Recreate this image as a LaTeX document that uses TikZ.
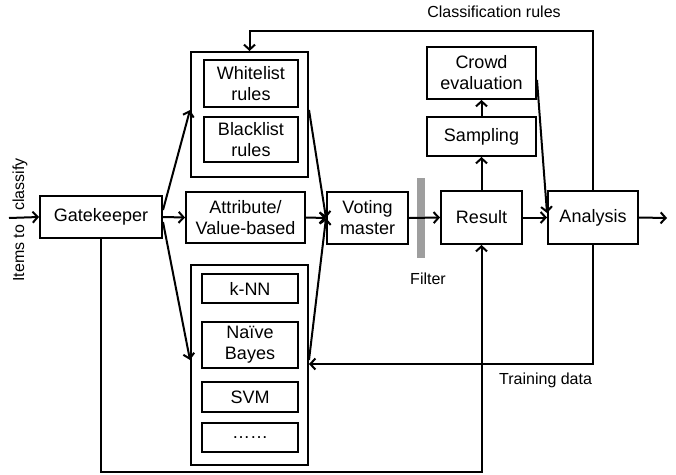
\documentclass[tikz,border=0pt]{standalone}
\usepackage{fontspec}
\setmainfont{Liberation Sans}
\usetikzlibrary{arrows.meta,calc}
\begin{document}
\begin{tikzpicture}[x=1pt,y=-1pt,
  line width=2pt,
  arr/.style={-{Straight Barb[length=5pt,width=11pt,line width=2pt]}},
  box/.style={draw,rectangle,inner sep=0pt,align=center,font=\fontsize{18}{21}\selectfont},
  lbl/.style={inner sep=0pt,font=\fontsize{16}{19}\selectfont}]
\useasboundingbox (0,0) rectangle (676,474);
% nodes
\node[box,minimum width=122pt,minimum height=42pt] (gk) at (101,217) {Gatekeeper};
\node[box,minimum width=117pt,minimum height=125pt] (up) at (249.5,114.5) {};
\node[box,minimum width=94pt,minimum height=47pt] (wl) at (251,83.5) {Whitelist\\rules};
\node[box,minimum width=94pt,minimum height=45pt] (bl) at (251,139.5) {Blacklist\\rules};
\node[box,minimum width=119pt,minimum height=51pt] (attr) at (245.5,217.5) {Attribute/\\Value-based};
\node[box,minimum width=117pt,minimum height=200pt] (low) at (249.5,365) {};
\node[box,minimum width=96pt,minimum height=29pt] (knn) at (250,288.5) {k-NN};
\node[box,minimum width=96pt,minimum height=46pt] (nb) at (250,345) {Naïve\\Bayes};
\node[box,minimum width=96pt,minimum height=30pt] (svm) at (250,397) {SVM};
\node[box,minimum width=96pt,minimum height=29pt] (dots) at (250,437.5) {……};
\node[box,minimum width=81pt,minimum height=52pt] (vote) at (367.5,218) {Voting\\master};
\node[fill=black!38,inner sep=0pt,minimum width=8pt,minimum height=80pt] (filter) at (421,218) {};
\node[box,minimum width=81pt,minimum height=53pt] (res) at (481.5,217.5) {Result};
\node[box,minimum width=90pt,minimum height=53pt] (an) at (593,217.5) {Analysis};
\node[box,minimum width=109pt,minimum height=39pt] (samp) at (481.5,136.5) {Sampling};
\node[box,minimum width=109pt,minimum height=52pt] (crowd) at (481.5,73) {Crowd\\evaluation};
% labels
\node[lbl,rotate=90] (items) at (20,220) {Items to\hspace{14pt}classify};
\node[lbl] (lfilter) at (428,279) {Filter};
\node[lbl] (lclass) at (494,12) {Classification rules};
\node[lbl,anchor=east] (ltrain) at (593,380) {Training data};
\coordinate (in) at (9,218);
\coordinate (out) at (667,218);
% connectors
\draw[arr] (in) -- (gk.west);
\draw[arr] ([yshift=7pt]gk.east) -- ([yshift=4.5pt]up.west);
\draw[arr] (gk.east) -- (attr.west);
\draw[arr] ([yshift=-5pt]gk.east) -- ([yshift=5pt]low.west);
\draw[arr] ([yshift=4.5pt]up.east) -- (vote.west);
\draw[arr] (attr.east) -- (vote.west);
\draw[arr] ([yshift=5pt]low.east) -- (vote.west);
\draw[arr] (vote.east) -- (res.west);
\draw[arr] (res.east) -- (an.west);
\draw[arr] (res.north) -- (samp.south);
\draw[arr] (samp.north) -- (crowd.south);
\draw[arr] ([yshift=-7pt]crowd.east) -- ([yshift=4.5pt]an.west);
\draw[arr] (an.east) -- (out);
\draw[arr] (an.north) |- ([yshift=20pt]up.north) -- (up.north);
\draw[arr] (an.south) |- ([yshift=1pt]low.east);
\draw[arr] (gk.south) |- ([yshift=-6pt]low.south) -| (res.south);
\end{tikzpicture}
\end{document}
